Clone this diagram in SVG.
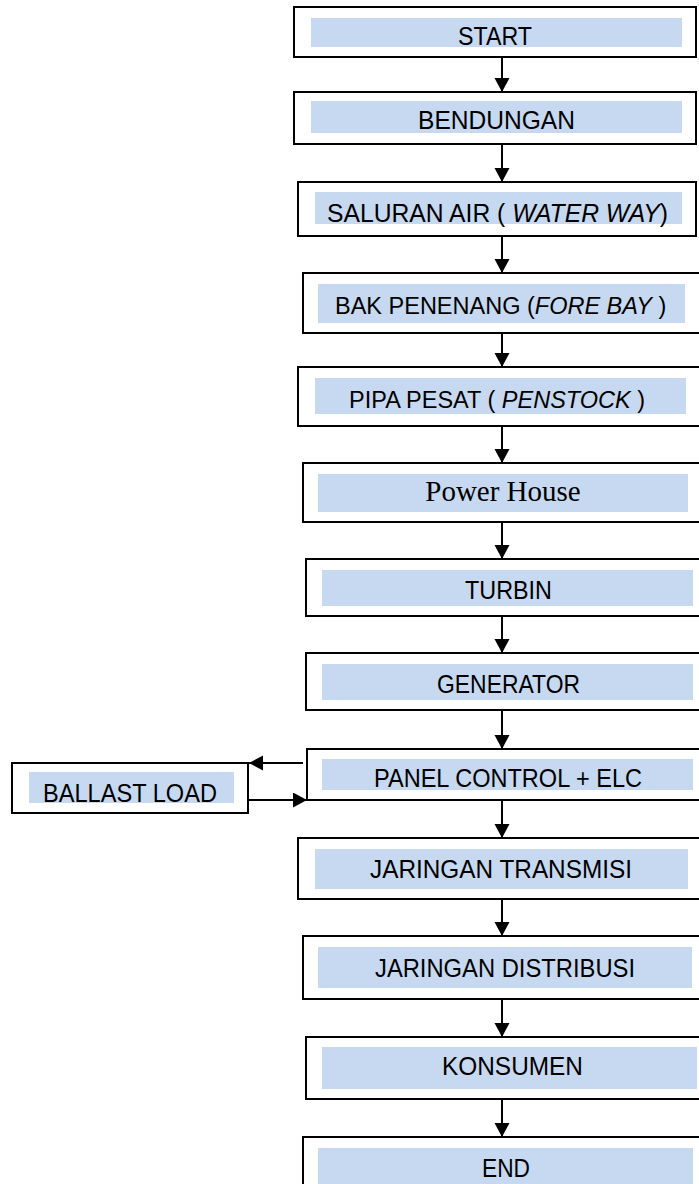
<svg xmlns="http://www.w3.org/2000/svg" width="699" height="1184" viewBox="0 0 699 1184">
  <defs>
    <style>
      .box { fill: #ffffff; stroke: #000000; stroke-width: 2; }
      .band { fill: #c6d9f1; stroke: none; }
      .lbl { font-family: "Liberation Sans", Arial, sans-serif; font-size: 25px; fill: #000000; }
      .mix { font-family: "Liberation Sans", Arial, sans-serif; font-size: 23.5px; fill: #000000; }
      .it { font-style: italic; }
      .serif { font-family: "Liberation Serif", "Times New Roman", serif; font-size: 29px; fill: #000000; }
      .link { fill: none; stroke: #000000; stroke-width: 2; marker-end: url(#head); }
    </style>
    <marker id="head" markerUnits="userSpaceOnUse" markerWidth="15" markerHeight="16" refX="14" refY="7.5" orient="auto">
      <path d="M0,0 L14,7.5 L0,15 z" fill="#000000"/>
    </marker>
  </defs>
  <rect width="699" height="1184" fill="#ffffff"/>

  <!-- process steps -->
  <g id="start">
    <rect class="box" x="294" y="7" width="402" height="50"/>
    <rect class="band" x="311" y="18" width="371" height="29"/>
    <text class="lbl" x="458" y="45" textLength="74" lengthAdjust="spacingAndGlyphs">START</text>
  </g>
  <g id="bendungan">
    <rect class="box" x="294" y="92" width="402" height="52"/>
    <rect class="band" x="311" y="101" width="371" height="32"/>
    <text class="lbl" x="418" y="129" textLength="157" lengthAdjust="spacingAndGlyphs">BENDUNGAN</text>
  </g>
  <g id="saluran-air">
    <rect class="box" x="298" y="182" width="398" height="54"/>
    <rect class="band" x="315" y="192" width="367" height="32"/>
    <text class="lbl" x="327" y="222" textLength="341" lengthAdjust="spacingAndGlyphs">SALURAN AIR ( <tspan class="it">WATER WAY</tspan>)</text>
  </g>
  <g id="bak-penenang">
    <rect class="box" x="303" y="273" width="405" height="60"/>
    <rect class="band" x="318" y="284" width="367" height="39"/>
    <text class="mix" x="335" y="314">BAK PENENANG (<tspan class="it">FORE BAY</tspan> )</text>
  </g>
  <g id="pipa-pesat">
    <rect class="box" x="298" y="367" width="410" height="59"/>
    <rect class="band" x="315" y="378" width="371" height="36"/>
    <text class="mix" x="349" y="408">PIPA PESAT ( <tspan class="it">PENSTOCK</tspan> )</text>
  </g>
  <g id="power-house">
    <rect class="box" x="303" y="463" width="405" height="59"/>
    <rect class="band" x="318" y="474" width="370" height="38"/>
    <text class="serif" x="503" y="501" text-anchor="middle">Power House</text>
  </g>
  <g id="turbin">
    <rect class="box" x="306" y="559" width="400" height="57"/>
    <rect class="band" x="322" y="570" width="371" height="36"/>
    <text class="lbl" x="465" y="599" textLength="87" lengthAdjust="spacingAndGlyphs">TURBIN</text>
  </g>
  <g id="generator">
    <rect class="box" x="306" y="653" width="400" height="57"/>
    <rect class="band" x="322" y="664" width="371" height="36"/>
    <text class="lbl" x="437" y="693" textLength="143" lengthAdjust="spacingAndGlyphs">GENERATOR</text>
  </g>
  <g id="panel-control">
    <rect class="box" x="307" y="749" width="400" height="51"/>
    <rect class="band" x="322" y="759" width="371" height="31"/>
    <text class="lbl" x="374" y="787" textLength="268" lengthAdjust="spacingAndGlyphs">PANEL CONTROL + ELC</text>
  </g>
  <g id="ballast-load">
    <rect class="box" x="12" y="763" width="236" height="50"/>
    <rect class="band" x="29" y="772" width="205" height="31"/>
    <text class="lbl" x="43" y="802" textLength="174" lengthAdjust="spacingAndGlyphs">BALLAST LOAD</text>
  </g>
  <g id="jaringan-transmisi">
    <rect class="box" x="298" y="838" width="410" height="61"/>
    <rect class="band" x="315" y="849" width="373" height="40"/>
    <text class="lbl" x="370" y="878" textLength="262" lengthAdjust="spacingAndGlyphs">JARINGAN TRANSMISI</text>
  </g>
  <g id="jaringan-distribusi">
    <rect class="box" x="303" y="936" width="405" height="63"/>
    <rect class="band" x="318" y="947" width="374" height="41"/>
    <text class="lbl" x="375" y="977" textLength="260" lengthAdjust="spacingAndGlyphs">JARINGAN DISTRIBUSI</text>
  </g>
  <g id="konsumen">
    <rect class="box" x="306" y="1037" width="400" height="62"/>
    <rect class="band" x="322" y="1047" width="375" height="42"/>
    <text class="lbl" x="442" y="1075" textLength="141" lengthAdjust="spacingAndGlyphs">KONSUMEN</text>
  </g>
  <g id="end">
    <rect class="box" x="303" y="1137" width="405" height="60"/>
    <rect class="band" x="318" y="1148" width="375" height="40"/>
    <text class="lbl" x="482" y="1177" textLength="48" lengthAdjust="spacingAndGlyphs">END</text>
  </g>

  <!-- flow connectors -->
  <g id="connectors">
    <path class="link" d="M502,57 V92"/>
    <path class="link" d="M502,144 V182"/>
    <path class="link" d="M502,236 V273"/>
    <path class="link" d="M502,333 V367"/>
    <path class="link" d="M502,426 V463"/>
    <path class="link" d="M502,522 V559"/>
    <path class="link" d="M502,616 V653"/>
    <path class="link" d="M502,710 V749"/>
    <path class="link" d="M502,800 V838"/>
    <path class="link" d="M502,899 V936"/>
    <path class="link" d="M502,999 V1037"/>
    <path class="link" d="M502,1099 V1137"/>
    <path class="link" d="M303,763 H249"/>
    <path class="link" d="M248,800 H307"/>
  </g>
</svg>
